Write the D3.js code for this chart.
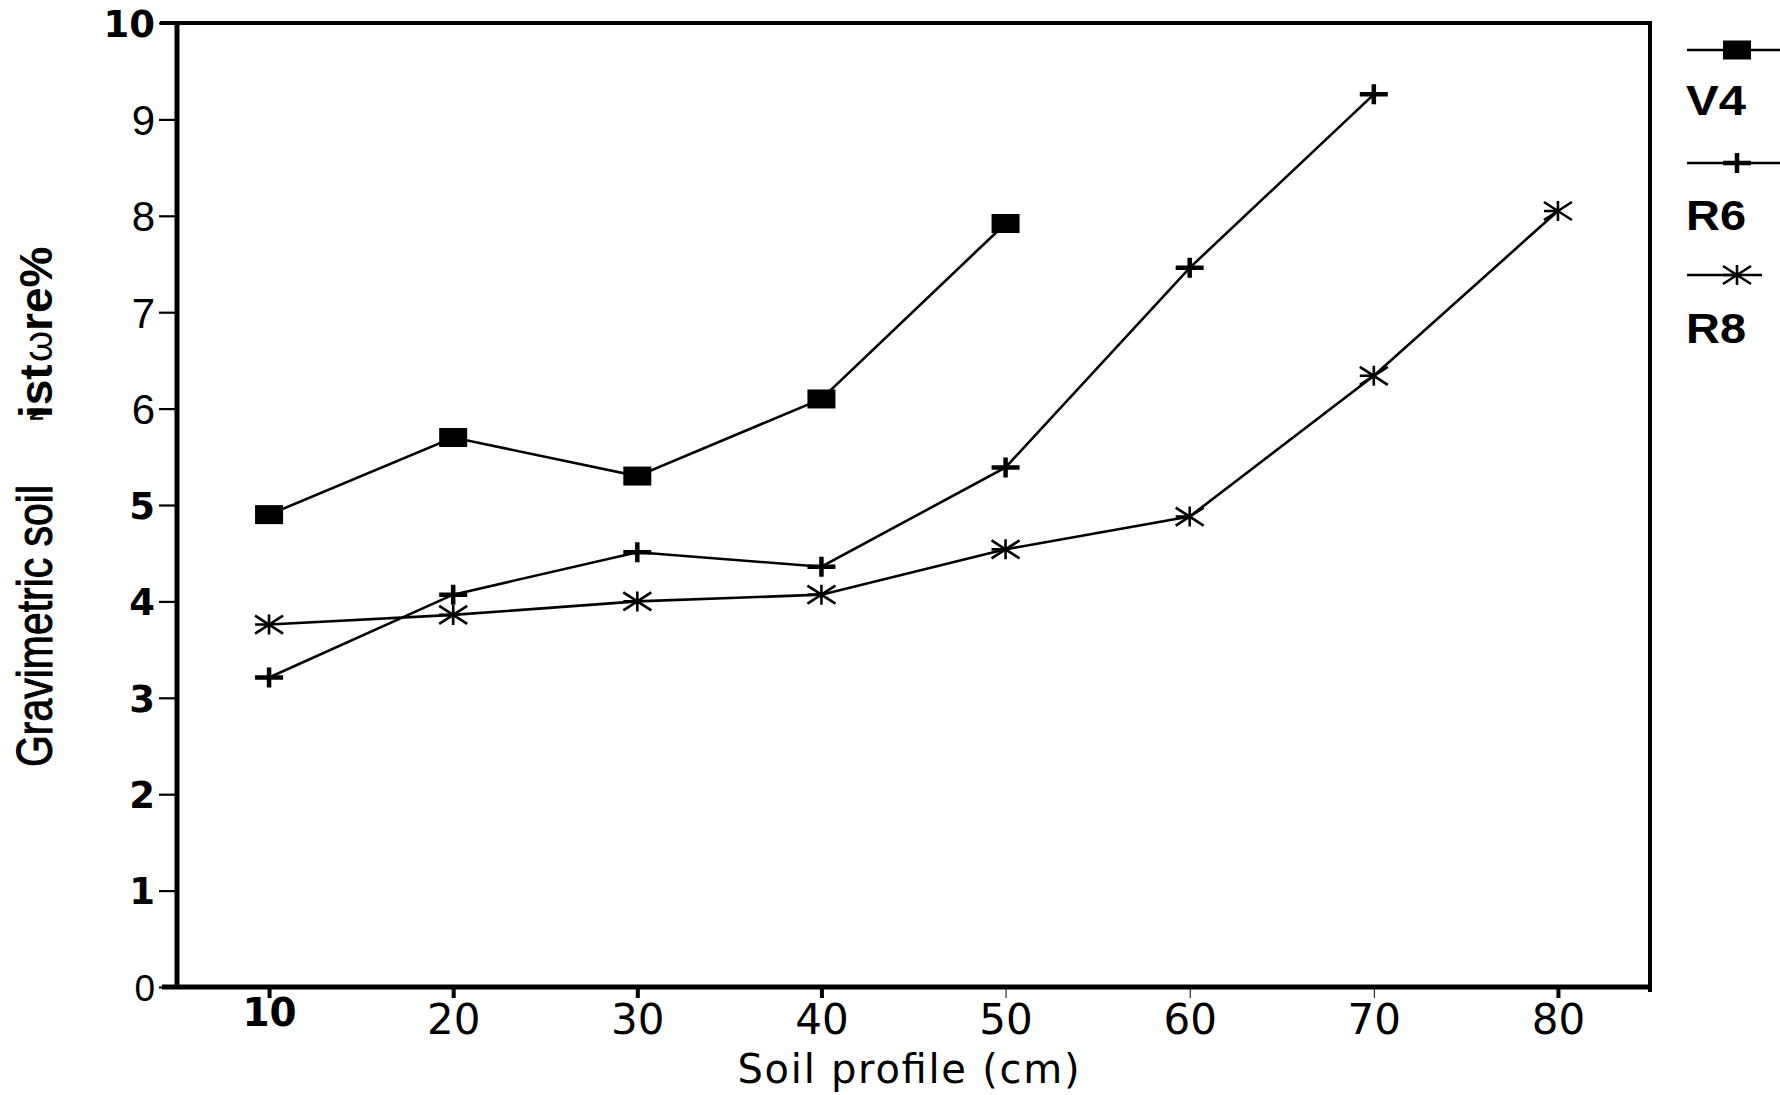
<!DOCTYPE html>
<html>
<head>
<meta charset="utf-8">
<script src="https://cdn.jsdelivr.net/npm/d3@7"></script>
<style>
  body { margin: 0; background: #fff; }
  svg { display: block; }
</style>
</head>
<body>
<div id="chart"></div>
<script>
/**
 * Data
 */
// soil depth (cm) on the x axis
var depths = [10, 20, 30, 40, 50, 60, 70, 80];
// gravimetric soil moisture (%) per variety
var v4Values = [4.90, 5.70, 5.30, 6.10, 7.92];
var r6Values = [3.21, 4.07, 4.51, 4.36, 5.39, 7.46, 9.26];
var r8Values = [3.76, 3.86, 4.00, 4.07, 4.54, 4.88, 6.34, 8.05];
// series names in legend order
var seriesNames = ["V4", "R6", "R8"];
// tick labels
var yTicks = [0, 1, 2, 3, 4, 5, 6, 7, 8, 9, 10];
var xTicks = [10, 20, 30, 40, 50, 60, 70, 80];
// the scan prints some tick labels in bold
var yBoldTicks = [10, 5, 4, 3, 2, 1];
var xBoldTicks = [10];
var xThinTicks = [50, 60, 70];

// build point arrays for d3.line
function toPoints(values) {
  return values.map((v, i) => ({depth: depths[i], value: v}));
}
var series = [
  {name: seriesNames[0], marker: "square", points: toPoints(v4Values)},
  {name: seriesNames[1], marker: "plus", points: toPoints(r6Values)},
  {name: seriesNames[2], marker: "asterisk", points: toPoints(r8Values)}
];

/**
 * Chart setup
 */
var svgWidth = 1780;
var svgHeight = 1095;

var svg = d3.select("#chart")
  .append("svg")
  .attr("width", svgWidth)
  .attr("height", svgHeight);

// plot frame edges
var frame = {left: 177, right: 1650, top: 23, bottom: 987};

var xScale = d3.scaleLinear()
  .domain([5, 85])
  .range([frame.left, frame.right]);

var yScale = d3.scaleLinear()
  .domain([0, 10])
  .range([frame.bottom, frame.top]);

var boldFont = "'DejaVu Sans', sans-serif";
var plainFont = "'DejaVu Sans', sans-serif";
var arialFont = "'Liberation Sans', Arial, sans-serif";

// y axis
var yAxisGroup = svg.append("g")
  .attr("transform", `translate(${frame.left}, 0)`)
  .call(d3.axisLeft(yScale).tickValues(yTicks).tickSizeInner(18).tickSizeOuter(0).tickPadding(4));
yAxisGroup.select(".domain").remove();
yAxisGroup.selectAll(".tick line").attr("stroke", "#000").attr("stroke-width", 2.2);
yAxisGroup.selectAll(".tick text")
  .attr("fill", "#000")
  .attr("font-family", d => yBoldTicks.indexOf(d) !== -1 ? boldFont : arialFont)
  .attr("font-weight", d => yBoldTicks.indexOf(d) !== -1 ? "bold" : "normal")
  .attr("font-size", d => yBoldTicks.indexOf(d) !== -1 ? 37 : (d === 0 ? 37 : 42))
  .attr("dy", "0.36em");

// x axis
var xAxisGroup = svg.append("g")
  .attr("transform", `translate(0, ${frame.bottom})`)
  .call(d3.axisBottom(xScale).tickValues(xTicks).tickSizeInner(11).tickSizeOuter(0));
xAxisGroup.select(".domain").remove();
xAxisGroup.selectAll(".tick line")
  .attr("stroke", "#000")
  .attr("stroke-width", d => xThinTicks.indexOf(d) !== -1 ? 1 : 4);
xAxisGroup.selectAll(".tick text")
  .attr("fill", "#000")
  .attr("font-family", d => xBoldTicks.indexOf(d) !== -1 ? boldFont : plainFont)
  .attr("font-weight", d => xBoldTicks.indexOf(d) !== -1 ? "bold" : "normal")
  .attr("font-size", d => xBoldTicks.indexOf(d) !== -1 ? 39 : 42)
  .attr("y", d => xBoldTicks.indexOf(d) !== -1 ? 39 : 47)
  .attr("dy", 0);

// heavy frame around the plot
var frameGroup = svg.append("g").attr("stroke", "#000").attr("fill", "none");
frameGroup.append("line")
  .attr("x1", frame.left).attr("y1", frame.top - 2)
  .attr("x2", frame.left).attr("y2", frame.bottom + 2)
  .attr("stroke-width", 5);
frameGroup.append("line")
  .attr("x1", frame.left - 17).attr("y1", frame.top)
  .attr("x2", frame.right + 2).attr("y2", frame.top)
  .attr("stroke-width", 4);
frameGroup.append("line")
  .attr("x1", frame.right).attr("y1", frame.top)
  .attr("x2", frame.right).attr("y2", frame.bottom + 5)
  .attr("stroke-width", 4);
frameGroup.append("line")
  .attr("x1", frame.left - 15).attr("y1", frame.bottom)
  .attr("x2", frame.right + 2).attr("y2", frame.bottom)
  .attr("stroke-width", 5);

// axis titles
svg.append("text")
  .attr("x", (frame.left + frame.right) / 2 - 5)
  .attr("y", 1083)
  .attr("text-anchor", "middle")
  .attr("font-family", plainFont)
  .attr("font-size", 40)
  .attr("textLength", 342)
  .attr("lengthAdjust", "spacing")
  .text("Soil profile (cm)");

// y title: the scan prints it in pieces
svg.append("text")
  .attr("transform", "translate(52, 767) rotate(-90)")
  .attr("font-family", arialFont)
  .attr("font-size", 50)
  .attr("stroke", "#000")
  .attr("stroke-width", 1)
  .attr("textLength", 282)
  .attr("lengthAdjust", "spacingAndGlyphs")
  .text("Gravimetric soil");
svg.append("text")
  .attr("transform", "translate(43, 421) rotate(-90)")
  .attr("font-family", arialFont)
  .attr("font-weight", "bold")
  .attr("font-size", 19)
  .text("N");
svg.append("text")
  .attr("transform", "translate(52, 418) rotate(-90)")
  .attr("font-family", arialFont)
  .attr("font-weight", "bold")
  .attr("font-size", 46)
  .text("ist");
svg.append("text")
  .attr("transform", "translate(52, 362) rotate(-90)")
  .attr("font-family", arialFont)
  .attr("font-size", 40)
  .text("ω");
svg.append("text")
  .attr("transform", "translate(52, 331) rotate(-90)")
  .attr("font-family", arialFont)
  .attr("font-weight", "bold")
  .attr("font-size", 46)
  .text("re%");

/**
 * Markers
 */
function drawMarker(group, type, cx, cy) {
  if (type === "square") {
    group.append("rect")
      .attr("x", cx - 14).attr("y", cy - 9.5)
      .attr("width", 28).attr("height", 19)
      .attr("fill", "#000");
  } else if (type === "plus") {
    group.append("path")
      .attr("d", `M${cx - 14},${cy}H${cx + 14}M${cx},${cy - 10}V${cy + 10}`)
      .attr("stroke", "#000").attr("stroke-width", 4.5).attr("fill", "none");
  } else {
    group.append("path")
      .attr("d", `M${cx},${cy - 10}V${cy + 10}M${cx - 14},${cy - 9}L${cx + 14},${cy + 9}M${cx - 14},${cy + 9}L${cx + 14},${cy - 9}M${cx - 14},${cy}H${cx}`)
      .attr("stroke", "#000").attr("stroke-width", 2.6).attr("fill", "none");
  }
}

var line = d3.line()
  .x(d => xScale(d.depth))
  .y(d => yScale(d.value));

var plotGroup = svg.append("g");
series.forEach(s => {
  plotGroup.append("path")
    .datum(s.points)
    .attr("d", line)
    .attr("fill", "none")
    .attr("stroke", "#000")
    .attr("stroke-width", 2.6);
  var markerGroup = plotGroup.append("g");
  s.points.forEach(p => drawMarker(markerGroup, s.marker, xScale(p.depth), yScale(p.value)));
});

/**
 * Legend on the right margin
 */
var legendGroup = svg.append("g");
var legendRows = [
  {lineY: 50, textY: 115, lineEnd: 1780},
  {lineY: 163, textY: 230, lineEnd: 1780},
  {lineY: 275, textY: 343, lineEnd: 1762}
];
series.forEach((s, i) => {
  var row = legendRows[i];
  legendGroup.append("line")
    .attr("x1", 1687).attr("y1", row.lineY)
    .attr("x2", row.lineEnd).attr("y2", row.lineY)
    .attr("stroke", "#000").attr("stroke-width", 2.6);
  drawMarker(legendGroup, s.marker, 1737, row.lineY);
  legendGroup.append("text")
    .attr("x", 1686).attr("y", row.textY)
    .attr("font-family", arialFont)
    .attr("font-weight", "bold")
    .attr("font-size", 42)
    .attr("textLength", 60)
    .attr("lengthAdjust", "spacingAndGlyphs")
    .text(s.name);
});
</script>
</body>
</html>
